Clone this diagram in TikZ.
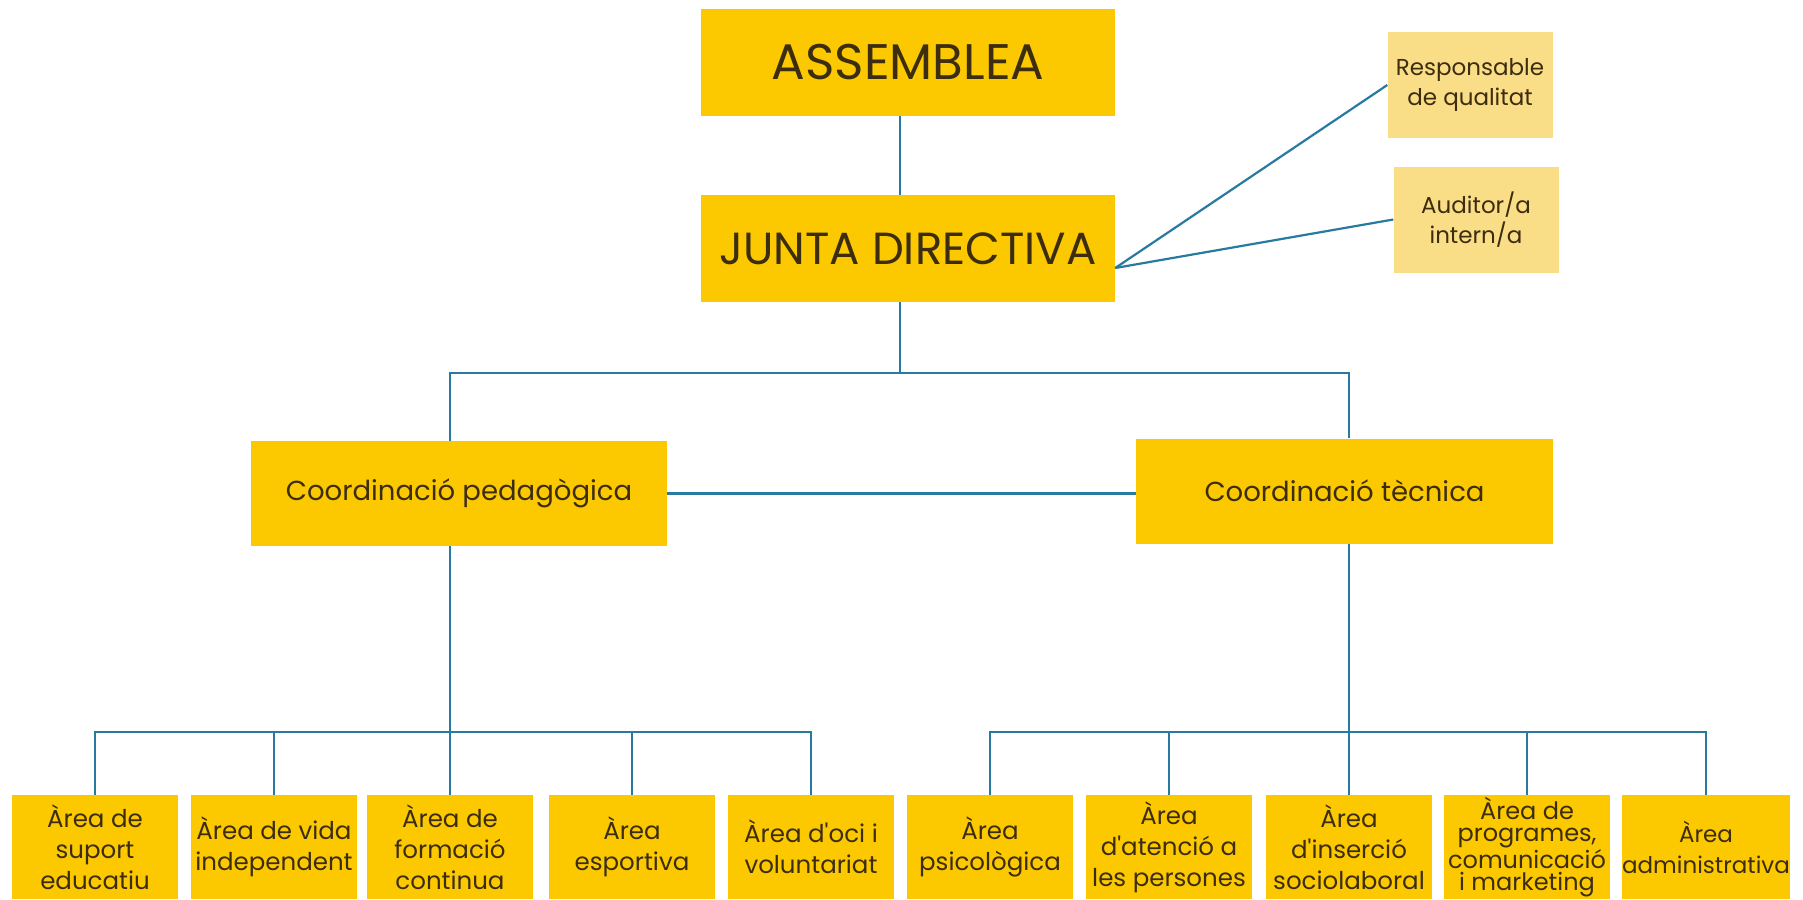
\documentclass[tikz,border=0pt]{standalone}
\usepackage{fontspec}
\setmainfont{Poppins}
\definecolor{gold}{RGB}{252,200,0}
\definecolor{pale}{RGB}{250,221,135}
\definecolor{ink}{RGB}{60,45,15}
\definecolor{wire}{RGB}{40,122,160}
\newcommand{\apos}{\textquotesingle}
\tikzset{
  box/.style={fill=gold, draw=none, inner sep=0pt, align=center, text=ink},
  bigbox/.style={box, minimum width=414pt, minimum height=107pt},
  coordbox/.style={box, minimum width=416pt, minimum height=105pt, font=\fontsize{27.5}{32}\selectfont},
  sidebox/.style={box, fill=pale, minimum width=165pt, minimum height=106pt, font=\fontsize{23}{30}\selectfont},
  areabox/.style={box, minimum width=166pt, minimum height=104pt, font=\fontsize{24.5}{31}\selectfont},
  wireline/.style={draw=wire, line width=2.2pt}
}
\begin{document}
\begin{tikzpicture}[x=1pt,y=-1pt]
\useasboundingbox (0,0) rectangle (1803,899);
\fill[white] (0,0) rectangle (1803,899);

\node[bigbox, font=\fontsize{50}{56}\selectfont] (assem) at (908,62.5) {ASSEMBLEA};
\node[bigbox, font=\fontsize{45}{52}\selectfont] (junta) at (908,248.5) {JUNTA DIRECTIVA};
\node[sidebox] (resp) at (1470,85) {Responsable\\de qualitat};
\node[sidebox] (audit) at (1476,219.5) {Auditor/a\\intern/a};
\node[coordbox] (pedag) at (459,493.5) {Coordinació pedagògica};
\node[coordbox, minimum width=417pt] (tecn) at (1344.5,491) {Coordinació tècnica};

\node[areabox] (a1) at (95,847) {Àrea de\\suport\\educatiu};
\node[areabox] (a2) at (274,847) {Àrea de vida\\independent};
\node[areabox] (a3) at (450,847) {Àrea de\\formació\\continua};
\node[areabox] (a4) at (632,847) {Àrea\\esportiva};
\node[areabox] (a5) at (811,847) {Àrea d\apos oci i\\voluntariat};

\node[areabox] (b1) at (990,847) {Àrea\\psicològica};
\node[areabox] (b2) at (1169,847) {Àrea\\d\apos atenció a\\les persones};
\node[areabox] (b3) at (1349,847) {Àrea\\d\apos inserció\\sociolaboral};
\node[areabox, font=\fontsize{24}{22.5}\selectfont] (b4) at (1527,847) {Àrea de\\programes,\\comunicació\\i marketing};
\node[areabox, font=\fontsize{23}{31}\selectfont] (b5) at (1706,847) {Àrea\\administrativa};

% spine coordinates
\coordinate (spine) at (900,373);
\coordinate (lbar) at (450,373);
\coordinate (rbar) at (1349,373);
\coordinate (lbus) at (450,732);
\coordinate (rbus) at (1349,732);
\coordinate (jside) at ([yshift=-19.5pt]junta.east);

\draw[wireline] (assem.south -| spine) -- (junta.north -| spine);
\draw[wireline] (junta.south -| spine) -- (spine);
\draw[wireline] (pedag.north -| lbar) -- (lbar) -- (rbar) -- (tecn.north -| rbar);
\draw[wireline] (pedag.east) -- (pedag.east -| tecn.west);
\draw[wireline] (jside) -- (resp.west);
\draw[wireline] (jside) -- (audit.west);

\draw[wireline] (pedag.south -| lbus) -- (lbus);
\draw[wireline] (a1.north) |- (lbus) -| (a5.north);
\draw[wireline] (a2.north) -- (a2.north |- lbus);
\draw[wireline] (a3.north) -- (a3.north |- lbus);
\draw[wireline] (a4.north) -- (a4.north |- lbus);

\draw[wireline] (tecn.south -| rbus) -- (rbus);
\draw[wireline] (b1.north) |- (rbus) -| (b5.north);
\draw[wireline] (b2.north) -- (b2.north |- rbus);
\draw[wireline] (b3.north) -- (b3.north |- rbus);
\draw[wireline] (b4.north) -- (b4.north |- rbus);
\end{tikzpicture}
\end{document}
